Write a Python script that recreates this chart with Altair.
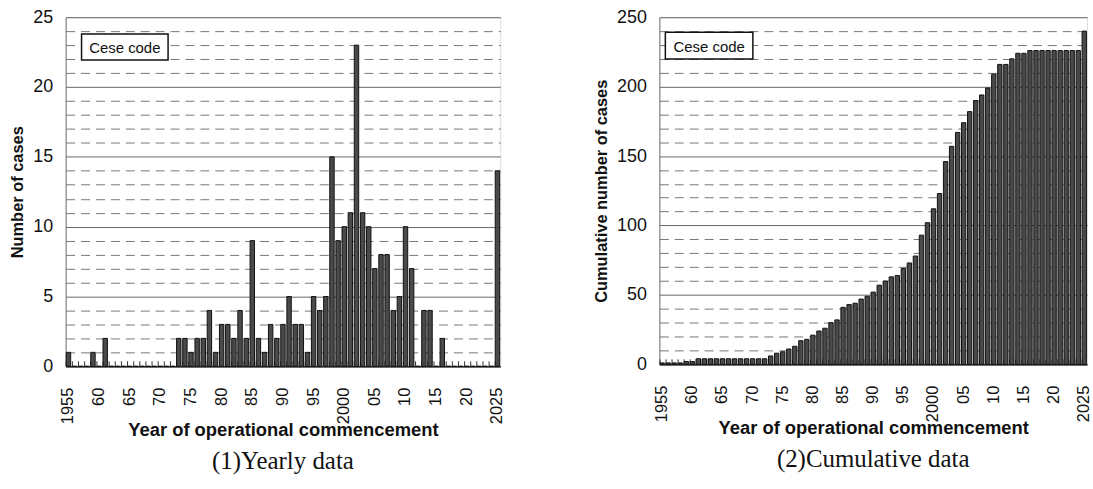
import altair as alt
import pandas as pd

years = list(range(1955, 2026))
yearly = [1, 0, 0, 0, 1, 0, 2,
          0, 0, 0, 0, 0, 0, 0, 0, 0, 0, 0,
          2, 2, 1, 2, 2, 4, 1, 3, 3, 2, 4, 2, 9, 2, 1, 3, 2, 3, 5, 3, 3, 1, 5, 4, 5,
          15, 9, 10, 11, 23, 11, 10, 7, 8, 8, 4, 5, 10, 7, 0, 4, 4, 0, 2,
          0, 0, 0, 0, 0, 0, 0, 0,
          14]
cumulative = [1, 1, 1, 1, 2, 2, 4,
              4, 4, 4, 4, 4, 4, 4, 4, 4, 4, 4,
              6, 8, 9, 11, 13, 17, 18, 21, 24, 26, 30, 32, 41, 43, 44, 47, 49, 52, 57, 60, 63, 64, 69, 73, 78,
              93, 102, 112, 123, 146, 157, 167, 174, 182, 190, 194, 199, 209, 216, 216, 220, 224, 224, 226,
              226, 226, 226, 226, 226, 226, 226, 226,
              240]
legend_label = ["Cese code"]

df = pd.DataFrame({"year": years, "yearly": yearly, "cumulative": cumulative})
leg = pd.DataFrame({"label": legend_label})

FONT = "Liberation Sans"
x_label_expr = ("datum.value % 5 != 0 ? '' : "
                "(datum.value == 1955 || datum.value == 2000 || datum.value == 2025 ? datum.label : "
                "slice(datum.label, 2))")


def panel(field, ymax, step, major, ytitle, title, width, height, box):
    base = alt.Chart(df)
    xenc = alt.X("year:O", title="Year of operational commencement",
                 scale=alt.Scale(paddingInner=0.28, paddingOuter=0.1),
                 axis=alt.Axis(labelAngle=-90, labelExpr=x_label_expr, ticks=False,
                               labelFontSize=16.5, labelFont=FONT, labelColor="#111",
                               labelPadding=21, titleFont=FONT, titleFontSize=18.5,
                               titleFontWeight="bold", titleColor="#111", titlePadding=-3,
                               domainColor="#111", domainWidth=1.2))
    yscale = alt.Scale(domain=[0, ymax], nice=False)
    yenc = alt.Y(f"{field}:Q", title=ytitle, scale=yscale,
                 axis=alt.Axis(values=list(range(0, ymax + 1, step)),
                               labelExpr=f"datum.value % {major} == 0 ? datum.label : ''",
                               ticks=False, labelFontSize=18, labelFont=FONT,
                               labelColor="#111", labelPadding=13,
                               titleFont=FONT, titleFontSize=16.5, titleFontWeight="bold",
                               titleColor="#111", titlePadding=7,
                               domainColor="#777",
                               gridColor={"condition": {"test": f"datum.value % {major} == 0", "value": "#666"}, "value": "#777"},
                               gridDash={"condition": {"test": f"datum.value % {major} == 0", "value": []}, "value": [9, 6]},
                               gridWidth=1))
    ticks = base.mark_rule(color="#333", strokeWidth=1).encode(
        x=alt.X("year:O", bandPosition=0),
        y=alt.value(height), y2=alt.value(height - 5))
    bars = base.mark_bar(fill="#4a4a4a", stroke="#111", strokeWidth=1).encode(x=xenc, y=yenc)
    x0, x1, y0, y1 = box
    rect = alt.Chart(leg).mark_rect(fill="white", stroke="#111", strokeWidth=1.5).encode(
        x=alt.value(x0), x2=alt.value(x1), y=alt.value(y0), y2=alt.value(y1))
    txt = alt.Chart(leg).mark_text(font=FONT, fontSize=15, color="#111").encode(
        x=alt.value((x0 + x1) / 2), y=alt.value((y0 + y1) / 2 + 1), text="label:N")
    return alt.layer(ticks, bars, rect, txt).properties(
        width=width, height=height,
        title=alt.TitleParams(title, orient="bottom", font="Liberation Serif", fontSize=25,
                              fontWeight="normal", color="#111", frame="group", offset=10))


left = panel("yearly", 25, 1, 5, "Number of cases", "(1)Yearly data", 437, 351, (16, 103, 17, 43))
right = panel("cumulative", 250, 10, 50, "Cumulative number of cases", "(2)Cumulative data",
              430, 349, (6, 94, 15, 42))

chart = alt.hconcat(left, right, spacing=87).properties(
    padding={"left": 9, "top": 6, "right": 0, "bottom": 0}
).configure_view(stroke="#666", strokeWidth=1).configure(background="white")

chart.save("out.html", embed_options={"renderer": "svg", "actions": False})
